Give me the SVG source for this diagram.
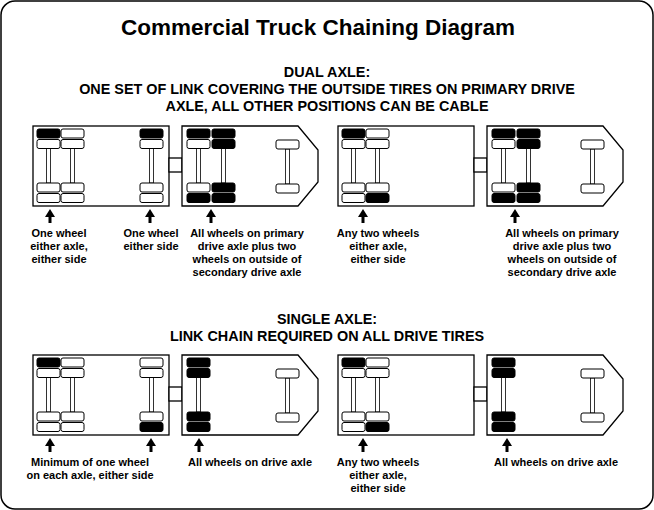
<svg xmlns="http://www.w3.org/2000/svg" width="654" height="510" viewBox="0 0 654 510">
<style>
.ln{fill:#fff;stroke:#000;stroke-width:1.3}
.t{fill:#fff;stroke:#000;stroke-width:1}
.b{fill:#000;stroke:#000;stroke-width:1}
.ax{fill:#fff;stroke:#000;stroke-width:0.8}
text{font-family:"Liberation Sans",Arial,sans-serif;font-weight:bold;fill:#000;text-anchor:middle}
.ti{font-size:22.5px}
.h{font-size:14.4px}
.l{font-size:11px}
</style>
<defs>
<g id="tandem">
<rect class="ax" x="13.5" y="22" width="4" height="35"/>
<rect class="ax" x="37.5" y="22" width="4" height="35"/>
</g>
<g id="cabbase">
<rect class="ln" x="136" y="32" width="13" height="14"/>
<path class="ln" d="M149,0H265L285,24V56L265,80H149Z"/>
<rect class="ax" x="252.5" y="23" width="4" height="35"/>
<rect class="t" x="243" y="14" width="23" height="9" rx="2"/>
<rect class="t" x="243" y="58" width="23" height="9" rx="2"/>
</g>
<path id="arr" d="M0,0L-5,8H-1.5V14H1.5V8H5Z"/>
</defs>
<rect x="1" y="1" width="652" height="508" rx="14" fill="#fff" stroke="#000" stroke-width="1.5"/>
<text class="ti" x="318" y="35">Commercial Truck Chaining Diagram</text>
<g id="heading-dual">
<text class="h" x="327" y="77">DUAL AXLE:</text>
<text class="h" x="327" y="94">ONE SET OF LINK COVERING THE OUTSIDE TIRES ON PRIMARY DRIVE</text>
<text class="h" x="327" y="111">AXLE, ALL OTHER POSITIONS CAN BE CABLE</text>
</g>
<g id="heading-single">
<text class="h" x="327" y="324">SINGLE AXLE:</text>
<text class="h" x="327" y="341">LINK CHAIN REQUIRED ON ALL DRIVE TIRES</text>
</g>

<g id="truck1" transform="translate(33,126)">
<rect class="ln" x="0" y="0" width="136" height="80"/>
<use href="#cabbase"/>
<use href="#tandem"/>
<rect class="ax" x="116.5" y="22" width="4" height="35"/>
<rect class="b" x="4" y="3" width="23" height="9" rx="2"/><rect class="t" x="28" y="3" width="23" height="9" rx="2"/>
<rect class="t" x="4" y="13.5" width="23" height="9" rx="2"/><rect class="t" x="28" y="13.5" width="23" height="9" rx="2"/>
<rect class="t" x="4" y="57" width="23" height="9" rx="2"/><rect class="t" x="28" y="57" width="23" height="9" rx="2"/>
<rect class="t" x="4" y="67.5" width="23" height="9" rx="2"/><rect class="t" x="28" y="67.5" width="23" height="9" rx="2"/>
<rect class="b" x="107" y="3" width="23" height="9" rx="2"/><rect class="t" x="107" y="13.5" width="23" height="9" rx="2"/>
<rect class="t" x="107" y="57" width="23" height="9" rx="2"/><rect class="t" x="107" y="67.5" width="23" height="9" rx="2"/>
<rect class="ax" x="163.5" y="22" width="4" height="35"/><rect class="ax" x="188.5" y="22" width="4" height="35"/>
<rect class="b" x="154" y="3" width="23" height="9" rx="2"/><rect class="b" x="179" y="3" width="23" height="9" rx="2"/>
<rect class="t" x="154" y="13.5" width="23" height="9" rx="2"/><rect class="b" x="179" y="13.5" width="23" height="9" rx="2"/>
<rect class="t" x="154" y="57" width="23" height="9" rx="2"/><rect class="b" x="179" y="57" width="23" height="9" rx="2"/>
<rect class="b" x="154" y="67.5" width="23" height="9" rx="2"/><rect class="b" x="179" y="67.5" width="23" height="9" rx="2"/>
</g>

<g id="truck2" transform="translate(338,126)">
<rect class="ln" x="0" y="0" width="136" height="80"/>
<use href="#cabbase"/>
<use href="#tandem"/>
<rect class="b" x="4" y="3" width="23" height="9" rx="2"/><rect class="t" x="28" y="3" width="23" height="9" rx="2"/>
<rect class="t" x="4" y="13.5" width="23" height="9" rx="2"/><rect class="t" x="28" y="13.5" width="23" height="9" rx="2"/>
<rect class="t" x="4" y="57" width="23" height="9" rx="2"/><rect class="t" x="28" y="57" width="23" height="9" rx="2"/>
<rect class="t" x="4" y="67.5" width="23" height="9" rx="2"/><rect class="b" x="28" y="67.5" width="23" height="9" rx="2"/>
<rect class="ax" x="163.5" y="22" width="4" height="35"/><rect class="ax" x="188.5" y="22" width="4" height="35"/>
<rect class="b" x="154" y="3" width="23" height="9" rx="2"/><rect class="b" x="179" y="3" width="23" height="9" rx="2"/>
<rect class="t" x="154" y="13.5" width="23" height="9" rx="2"/><rect class="b" x="179" y="13.5" width="23" height="9" rx="2"/>
<rect class="t" x="154" y="57" width="23" height="9" rx="2"/><rect class="b" x="179" y="57" width="23" height="9" rx="2"/>
<rect class="b" x="154" y="67.5" width="23" height="9" rx="2"/><rect class="b" x="179" y="67.5" width="23" height="9" rx="2"/>
</g>

<g id="truck3" transform="translate(33,355)">
<rect class="ln" x="0" y="0" width="136" height="80"/>
<use href="#cabbase"/>
<use href="#tandem"/>
<rect class="ax" x="116.5" y="22" width="4" height="35"/>
<rect class="b" x="4" y="3" width="23" height="9" rx="2"/><rect class="t" x="28" y="3" width="23" height="9" rx="2"/>
<rect class="t" x="4" y="13.5" width="23" height="9" rx="2"/><rect class="t" x="28" y="13.5" width="23" height="9" rx="2"/>
<rect class="t" x="4" y="57" width="23" height="9" rx="2"/><rect class="t" x="28" y="57" width="23" height="9" rx="2"/>
<rect class="t" x="4" y="67.5" width="23" height="9" rx="2"/><rect class="t" x="28" y="67.5" width="23" height="9" rx="2"/>
<rect class="t" x="107" y="3" width="23" height="9" rx="2"/><rect class="t" x="107" y="13.5" width="23" height="9" rx="2"/>
<rect class="t" x="107" y="57" width="23" height="9" rx="2"/><rect class="b" x="107" y="67.5" width="23" height="9" rx="2"/>
<rect class="ax" x="163.5" y="22" width="4" height="35"/>
<rect class="b" x="154" y="3" width="23" height="9" rx="2"/><rect class="b" x="154" y="13.5" width="23" height="9" rx="2"/>
<rect class="b" x="154" y="57" width="23" height="9" rx="2"/><rect class="b" x="154" y="67.5" width="23" height="9" rx="2"/>
</g>

<g id="truck4" transform="translate(338,355)">
<rect class="ln" x="0" y="0" width="136" height="80"/>
<use href="#cabbase"/>
<use href="#tandem"/>
<rect class="b" x="4" y="3" width="23" height="9" rx="2"/><rect class="t" x="28" y="3" width="23" height="9" rx="2"/>
<rect class="t" x="4" y="13.5" width="23" height="9" rx="2"/><rect class="t" x="28" y="13.5" width="23" height="9" rx="2"/>
<rect class="t" x="4" y="57" width="23" height="9" rx="2"/><rect class="t" x="28" y="57" width="23" height="9" rx="2"/>
<rect class="t" x="4" y="67.5" width="23" height="9" rx="2"/><rect class="b" x="28" y="67.5" width="23" height="9" rx="2"/>
<rect class="ax" x="163.5" y="22" width="4" height="35"/>
<rect class="b" x="154" y="3" width="23" height="9" rx="2"/><rect class="b" x="154" y="13.5" width="23" height="9" rx="2"/>
<rect class="b" x="154" y="57" width="23" height="9" rx="2"/><rect class="b" x="154" y="67.5" width="23" height="9" rx="2"/>
</g>

<g id="connectors">
<use href="#arr" x="50" y="209"/><use href="#arr" x="150" y="209"/><use href="#arr" x="211" y="209"/>
<use href="#arr" x="363" y="209"/><use href="#arr" x="515" y="209"/>
<use href="#arr" x="50" y="438"/><use href="#arr" x="151" y="438"/><use href="#arr" x="199" y="438"/>
<use href="#arr" x="363" y="438"/><use href="#arr" x="507" y="438"/>
</g>

<g id="labels-top">
<text class="l" x="59" y="237">One wheel</text><text class="l" x="59" y="250">either axle,</text><text class="l" x="59" y="263">either side</text>
<text class="l" x="151" y="237">One wheel</text><text class="l" x="151" y="250">either side</text>
<text class="l" x="247" y="237">All wheels on primary</text><text class="l" x="247" y="250">drive axle plus two</text><text class="l" x="247" y="263">wheels on outside of</text><text class="l" x="247" y="276">secondary drive axle</text>
<text class="l" x="378" y="237">Any two wheels</text><text class="l" x="378" y="250">either axle,</text><text class="l" x="378" y="263">either side</text>
<text class="l" x="562" y="237">All wheels on primary</text><text class="l" x="562" y="250">drive axle plus two</text><text class="l" x="562" y="263">wheels on outside of</text><text class="l" x="562" y="276">secondary drive axle</text>
</g>
<g id="labels-bottom">
<text class="l" x="90" y="466">Minimum of one wheel</text><text class="l" x="90" y="479">on each axle, either side</text>
<text class="l" x="250" y="466">All wheels on drive axle</text>
<text class="l" x="378" y="466">Any two wheels</text><text class="l" x="378" y="479">either axle,</text><text class="l" x="378" y="492">either side</text>
<text class="l" x="556" y="466">All wheels on drive axle</text>
</g>
</svg>
